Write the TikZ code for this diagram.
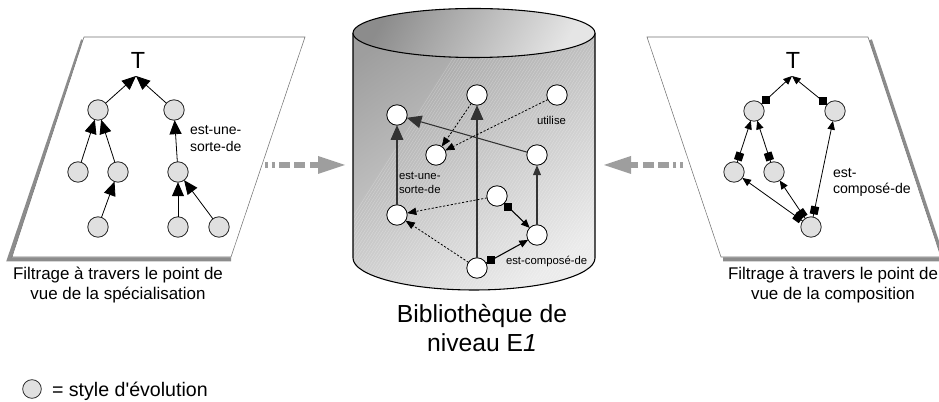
\documentclass[tikz,border=0pt]{standalone}
\usepackage{fontspec}
\setmainfont{Liberation Sans}
\usetikzlibrary{arrows.meta,calc}
\definecolor{nodegray}{gray}{0.88}
\definecolor{shadowgray}{gray}{0.55}
\definecolor{arrgray}{gray}{0.62}
\tikzset{
  x=0.75pt,y=-0.75pt,
  every node/.style={inner sep=0pt,outer sep=0pt},
  gnode/.style={circle,draw=black!85,line width=0.6pt,fill=nodegray,minimum size=15.3pt},
  wnode/.style={circle,draw=black,line width=0.6pt,fill=white,minimum size=15.3pt},
  bigarr/.style={line width=0.6pt,-{Triangle[length=10.5pt,width=9pt]}},
  midarr/.style={line width=0.6pt,-{Triangle[length=6.5pt,width=5.5pt]}},
  darr/.style={line width=0.6pt,dash pattern=on 1.6pt off 1.3pt,-{Triangle[length=7pt,width=5.5pt]}},
  solidarr/.style={line width=0.8pt,draw=black!80,-{Triangle[length=11pt,width=9.5pt]}},
  sq/.style={fill=black,minimum size=6pt},
  sqr/.style={sq,sloped},
  plane/.style={draw=black!55,line width=0.4pt,fill=white},
  small/.style={font=\fontsize{10.5}{12.75}\selectfont,align=left,anchor=west},
  tiny/.style={font=\fontsize{8.5}{10.5}\selectfont,align=left,anchor=west},
  caption/.style={font=\fontsize{12.7}{15}\selectfont,align=center},
  bigarrow/.style={draw=arrgray,line width=4pt,dash pattern=on 2.5pt off 2.5pt on 2.5pt off 3pt on 8.25pt off 3pt on 8.25pt off 3.75pt on 10pt off 0pt},
  bighead/.style={fill=arrgray,draw=none},
}
\begin{document}
\begin{tikzpicture}
\useasboundingbox (0,0) rectangle (939,402);
% Left plane
\draw[shadowgray,line width=3pt] (83,40) -- (9,259.5) -- (231,259.5);
\draw[plane] (84,37) -- (305,37) -- (231,257) -- (12,257) -- cycle;
\node[font=\fontsize{17.5}{18}\selectfont] (lT) at (138,60) {T};
\coordinate (lTa) at (136,76);
\node[gnode] (l1) at (98,110) {};
\node[gnode] (l2) at (174,110) {};
\node[gnode] (l3) at (78,172) {};
\node[gnode] (l4) at (118,172) {};
\node[gnode] (l5) at (178,172) {};
\node[gnode] (l6) at (98,227) {};
\node[gnode] (l7) at (178,227) {};
\node[gnode] (l8) at (219,227) {};
\draw[bigarr] (l1) -- (lTa);
\draw[bigarr] (l2) -- (lTa);
\draw[bigarr] (l3) -- (l1);
\draw[bigarr] (l4) -- (l1);
\draw[bigarr] (l5) -- (l2);
\draw[bigarr] (l6) -- (l4);
\draw[bigarr] (l7) -- (l5);
\draw[bigarr] (l8) -- (l5);
\node[small] (lt1) at (190,138.5) {est-une-\\sorte-de};
\node[caption] (lc) at (118,285.5) {Filtrage à travers le point de\\vue de la spécialisation};
% Arrow left
\coordinate (al0) at (265,165);
\coordinate (al1) at (319,165);
\coordinate (al2) at (345,165);
\draw[bigarrow] (al0) -- (al1);
\fill[bighead] (al2) -- ($(al1)+(-1,-9)$) -- ($(al1)+(-1,9)$) -- cycle;
% Cylinder
\begin{scope}
\clip (353,33) -- (353,258) arc[x radius=121,y radius=32,start angle=180,end angle=0] -- (595,33) -- cycle;
\shade[top color=black!38,bottom color=black!8,shading angle=35] (345,0) rectangle (603,295);
\foreach \k in {0,...,180}
  \draw[white,opacity=0.25,line width=0.4pt] (300+\k*3,300) -- ++(190,-300);
\end{scope}
\draw[black,line width=0.8pt] (353,33) -- (353,258) arc[x radius=121,y radius=32,start angle=180,end angle=0] -- (595,33);
\shade[top color=black!45,bottom color=black!10,shading angle=60] (474,33) ellipse[x radius=121,y radius=24.5];
\draw[black,line width=0.8pt] (474,33) ellipse[x radius=121,y radius=24.5];
\node[wnode] (cA) at (397,115) {};
\node[wnode] (cB) at (477,95) {};
\node[wnode] (cC) at (557,95) {};
\node[wnode] (cD) at (436,155) {};
\node[wnode] (cE) at (537,155) {};
\node[wnode] (cF) at (497,196) {};
\node[wnode] (cG) at (397,215) {};
\node[wnode] (cH) at (537,235) {};
\node[wnode] (cI) at (477,268) {};
\draw[solidarr] (cG) -- (cA);
\draw[solidarr] (cI) -- (cB);
\draw[solidarr] (cE) -- (cA);
\draw[line width=0.8pt,draw=black!80,-{Triangle[length=7.5pt,width=6pt]}] (cH) -- (cE);
\draw[darr] (cB) -- (cD);
\draw[darr] (cC) -- (cD);
\draw[darr] (cF) -- (cG);
\draw[darr] (cI) -- (cG);
\draw[midarr,line width=0.8pt] (cF) -- node[sq,pos=0.14]{} (cH);
\draw[midarr,line width=0.8pt] (cI) -- node[sq,pos=0.125]{} (cH);
\node[tiny] (ct1) at (537,120) {utilise};
\node[tiny] (ct2) at (399,182.5) {est-une-\\sorte-de};
\node[tiny] (ct3) at (506,262) {est-composé-de};
\node[font=\fontsize{18.5}{21.75}\selectfont,align=center] (cc) at (482,328.5) {Bibliothèque de\\niveau E\textit{1}};
% Arrow right
\coordinate (ar0) at (683,165);
\coordinate (ar1) at (630,165);
\coordinate (ar2) at (604,165);
\draw[bigarrow] (ar0) -- (ar1);
\fill[bighead] (ar2) -- ($(ar1)+(1,-9)$) -- ($(ar1)+(1,9)$) -- cycle;
% Right plane
\draw[shadowgray,line width=3pt] (870,40) -- (943,259.5) -- (723,259.5);
\draw[plane] (647,37) -- (868,37) -- (941,257) -- (721,257) -- cycle;
\node[font=\fontsize{17.5}{18}\selectfont] (rT) at (793,60) {T};
\coordinate (rTa) at (792,76);
\node[gnode] (r1) at (754,111) {};
\node[gnode] (r2) at (835,111) {};
\node[gnode] (r3) at (734,172) {};
\node[gnode] (r4) at (774,172) {};
\node[gnode] (r5) at (811,227) {};
\draw[midarr] (r1) -- node[sq,pos=0.14]{} (rTa);
\draw[midarr] (r2) -- node[sq,pos=0.13]{} (rTa);
\draw[midarr] (r3) -- node[sqr,pos=0.14]{} (r1);
\draw[midarr] (r4) -- node[sqr,pos=0.14]{} (r1);
\draw[midarr] (r5) -- node[sqr,pos=0.07]{} (r2);
\draw[midarr] (r5) -- node[sqr,pos=0.08]{} (r3);
\draw[midarr] (r5) -- node[sqr,pos=0.13]{} (r4);
\node[small,font=\fontsize{10.6}{12}\selectfont] (rt1) at (833,182.5) {est-\\composé-de};
\node[caption] (rc) at (833,285.5) {Filtrage à travers le point de\\vue de la composition};
% Legend
\node[gnode,minimum size=14pt] (lg) at (32,389) {};
\node[font=\fontsize{14.7}{16}\selectfont,anchor=base west] (lgt) at (52,397) {= style d\textquotesingle évolution};
\end{tikzpicture}
\end{document}
